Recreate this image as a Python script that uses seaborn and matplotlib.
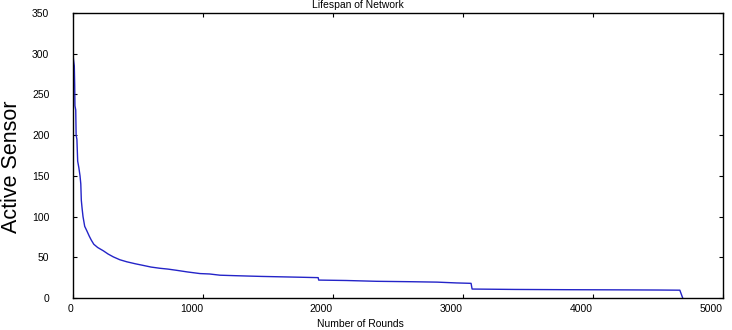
import matplotlib
matplotlib.use("Agg")
import matplotlib.pyplot as plt
import matplotlib.transforms as mtransforms
import seaborn as sns
import pandas as pd

# Data
rounds = [0, 6, 10, 13, 15, 21, 24, 30, 36, 45, 54, 60, 64, 70, 77, 90, 105, 125, 141, 160,
          190, 233, 270, 310, 360, 413, 480, 541, 600, 669, 730, 797, 880, 977, 1050, 1131,
          1230, 1336, 1450, 1600, 1750, 1886, 1890, 2100, 2336, 2600, 2800, 2950, 3062,
          3070, 3400, 3800, 4200, 4500, 4668, 4690]
active = [298, 290, 285, 262, 236, 231, 200, 195, 168, 160, 150, 140, 120, 110, 100, 88,
          83, 76, 71, 66, 62, 58, 54, 50.5, 47, 44.5, 42, 40, 38, 36.5, 35.5, 34, 32, 30,
          29.5, 28, 27.5, 27, 26.5, 26, 25.5, 25, 22, 21.5, 20.5, 20, 19.5, 18.5, 18, 11,
          10.5, 10.2, 10, 9.8, 9.6, 0]

xticks = [0, 1000, 2000, 3000, 4000, 5000]
yticks = [0, 50, 100, 150, 200, 250, 300, 350]

df = pd.DataFrame({"Number of Rounds": rounds, "Active Sensor": active})

sns.set_style("white")
plt.rcParams["font.family"] = ["Liberation Sans", "DejaVu Sans"]
plt.rcParams["text.color"] = "black"
plt.rcParams["axes.labelcolor"] = "black"
plt.rcParams["xtick.color"] = "black"
plt.rcParams["ytick.color"] = "black"

fig = plt.figure(figsize=(7.32, 3.30), dpi=100)
ax = fig.add_axes([73 / 732, 32 / 330, 650 / 732, 285 / 330])

sns.lineplot(data=df, x="Number of Rounds", y="Active Sensor", ax=ax,
             color="#2424c8", linewidth=1.0, estimator=None, sort=False)

ax.set_xlim(0, 5000)
ax.set_ylim(0, 350)
ax.set_xticks(xticks)
ax.set_yticks(yticks)
ax.set_xticklabels([str(t) for t in xticks], fontsize=7.5)
ax.set_yticklabels([str(t) for t in yticks], fontsize=7.5)

for lab in ax.get_xticklabels():
    lab.set_horizontalalignment("right")
    lab.set_transform(lab.get_transform() + mtransforms.ScaledTranslation(2 / 100, 0, fig.dpi_scale_trans))

ax.tick_params(axis="both", direction="in", length=3, width=0.8, color="black",
               labelcolor="black", top=True, right=True, bottom=True, left=True)
ax.tick_params(axis="x", pad=4)
ax.tick_params(axis="y", pad=17)

for s in ax.spines.values():
    s.set_visible(True)
    s.set_color("black")
    s.set_linewidth(1.0)

ax.set_xlabel("Number of Rounds", fontsize=7.5, color="black")
ax.xaxis.set_label_coords((360 - 73) / 650, -0.075)
ax.set_ylabel("Active Sensor", fontsize=15.5, color="black")
ax.yaxis.set_label_coords(-0.078, 0.46)

fig.text(358 / 732, 1 - 5 / 330, "Lifespan of Network", ha="center", va="center",
         fontsize=7.5, color="black")

fig.savefig("out.png", dpi=100)
